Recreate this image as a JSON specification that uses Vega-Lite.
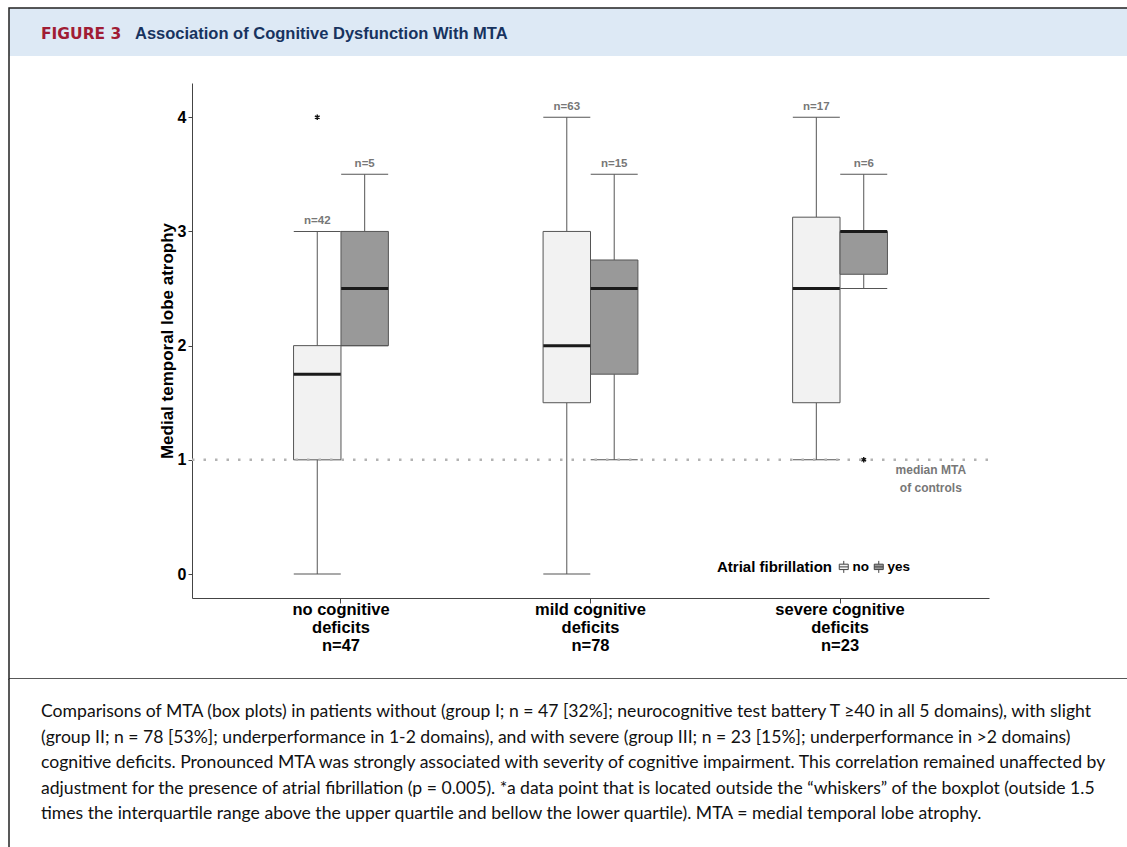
{
  "$schema": "https://vega.github.io/schema/vega-lite/v6.json",
  "padding": {"left": 8, "top": 7, "right": 0, "bottom": 0},
  "background": "white",
  "spacing": 0,
  "bounds": "flush",
  "config": {
    "font": "Liberation Sans",
    "axis": {"grid": false},
    "legend": {"labelLimit": 300}
  },
  "vconcat": [
    {
      "width": 1119,
      "height": 48,
      "view": {"fill": "#dde9f5", "stroke": "#222222", "strokeWidth": 1.5, "strokeDash": [1119, 1167, 48]},
      "data": {"values": [{"part": "FIGURE 3"}, {"part": "Association of Cognitive Dysfunction With MTA"}]},
      "encoding": {
        "x": {"field": "part", "type": "nominal", "scale": {"type": "point", "domain": ["FIGURE 3", "Association of Cognitive Dysfunction With MTA"], "range": [32, 126], "padding": 0}, "axis": null},
        "text": {"field": "part"}
      },
      "layer": [
        {"transform": [{"filter": "datum.part == 'FIGURE 3'"}],
         "mark": {"type": "text", "align": "left", "baseline": "middle", "dy": 2, "font": "DejaVu Sans", "fontWeight": "bold", "fontSize": 15.5, "color": "#a01c34"}},
        {"transform": [{"filter": "datum.part != 'FIGURE 3'"}],
         "mark": {"type": "text", "align": "left", "baseline": "middle", "dy": 2, "font": "Liberation Sans", "fontWeight": "bold", "fontSize": 16.5, "color": "#17335f"}}
      ]
    },
    {
      "width": 1119,
      "height": 623,
      "view": {"fill": "white", "stroke": "#222222", "strokeWidth": 1.5, "strokeDash": [0, 1742, 1742]},
      "resolve": {"scale": {"x": "independent"}},
      "layer": [
        {
          "data": {"values": [
            {"group": "no cognitive|deficits|n=47", "af": "no", "lower": 0, "q1": 1, "median": 1.75, "q3": 2, "upper": 3, "n": "n=42"},
            {"group": "no cognitive|deficits|n=47", "af": "yes", "lower": 2, "q1": 2, "median": 2.5, "q3": 3, "upper": 3.5, "n": "n=5"},
            {"group": "mild cognitive|deficits|n=78", "af": "no", "lower": 0, "q1": 1.5, "median": 2, "q3": 3, "upper": 4, "n": "n=63"},
            {"group": "mild cognitive|deficits|n=78", "af": "yes", "lower": 1, "q1": 1.75, "median": 2.5, "q3": 2.75, "upper": 3.5, "n": "n=15"},
            {"group": "severe cognitive|deficits|n=23", "af": "no", "lower": 1, "q1": 1.5, "median": 2.5, "q3": 3.125, "upper": 4, "n": "n=17"},
            {"group": "severe cognitive|deficits|n=23", "af": "yes", "lower": 2.5, "q1": 2.625, "median": 3, "q3": 3, "upper": 3.5, "n": "n=6"}
          ]},
          "encoding": {
            "x": {
              "field": "group", "type": "nominal",
              "scale": {"domain": ["no cognitive|deficits|n=47", "mild cognitive|deficits|n=78", "severe cognitive|deficits|n=23"], "range": [183, 980], "paddingInner": 0.62, "paddingOuter": 0.407},
              "axis": {
                "orient": "bottom", "offset": -81, "title": null,
                "labelExpr": "split(datum.value, '|')",
                "labelFont": "Liberation Sans", "labelFontSize": 16.5, "labelFontWeight": "bold", "labelColor": "#000000",
                "labelLineHeight": 18, "labelAngle": 0, "labelPadding": -2, "labelBaseline": "top",
                "labelOverlap": false, "labelBound": false,
                "tickSize": 5, "tickColor": "#444444", "domainColor": "#444444", "grid": false
              }
            },
            "xOffset": {"field": "af", "type": "nominal", "scale": {"domain": ["no", "yes"], "paddingInner": 0, "paddingOuter": 0}}
          },
          "layer": [
            {"mark": {"type": "rule", "color": "#555555", "strokeWidth": 1},
             "encoding": {
               "y": {"field": "lower", "type": "quantitative", "title": "Medial temporal lobe atrophy",
                     "scale": {"domain": [-0.21, 4.3], "range": [542, 27], "nice": false, "zero": false},
                     "axis": {"values": [0, 1, 2, 3, 4], "format": "d", "offset": -183, "title": "Medial temporal lobe atrophy",
                              "titleFont": "Liberation Sans", "titleFontSize": 17, "titleFontWeight": "bold", "titleColor": "#000000", "titlePadding": 1,
                              "labelFont": "Liberation Sans", "labelFontSize": 16, "labelFontWeight": "bold", "labelColor": "#000000", "labelPadding": 2,
                              "tickSize": 4, "tickColor": "#444444", "domainColor": "#444444", "grid": false}},
               "y2": {"field": "q1"}
             }},
            {"mark": {"type": "rule", "color": "#555555", "strokeWidth": 1},
             "encoding": {
               "y": {"field": "q3", "type": "quantitative", "title": "Medial temporal lobe atrophy"},
               "y2": {"field": "upper"}
             }},
            {"mark": {"type": "bar", "stroke": "#555555", "strokeWidth": 1},
             "encoding": {
               "y": {"field": "q1", "type": "quantitative", "title": "Medial temporal lobe atrophy"},
               "y2": {"field": "q3"},
               "fill": {"field": "af", "type": "nominal",
                        "scale": {"domain": ["no", "yes"], "range": ["#f2f2f2", "#999999"]},
                        "legend": {
                          "title": "Atrial fibrillation", "orient": "none", "legendX": 708, "legendY": 552,
                          "direction": "horizontal", "titleOrient": "left", "titlePadding": 4,
                          "titleFont": "Liberation Sans", "titleFontSize": 15, "titleFontWeight": "bold", "titleColor": "#000000",
                          "labelFont": "Liberation Sans", "labelFontSize": 13.5, "labelFontWeight": "bold", "labelColor": "#000000",
                          "labelOffset": 2, "columnPadding": 3,
                          "symbolType": "M-0.75,-0.45H0.75V0.45H-0.75Z M-0.75,0H0.75 M0,-0.45V-1 M0,0.45V1",
                          "symbolSize": 144, "symbolStrokeColor": "#444444", "symbolStrokeWidth": 1
                        }}
             }},
            {"transform": [{"fold": ["lower", "upper"], "as": ["which", "cap"]}],
             "mark": {"type": "tick", "color": "#555555", "opacity": 1, "thickness": 1, "size": 47},
             "encoding": {
               "y": {"field": "cap", "type": "quantitative", "title": "Medial temporal lobe atrophy"}
             }},
            {"mark": {"type": "tick", "color": "#1a1a1a", "opacity": 1, "thickness": 3, "size": 47},
             "encoding": {
               "y": {"field": "median", "type": "quantitative", "title": "Medial temporal lobe atrophy"}
             }},
            {"mark": {"type": "text", "baseline": "bottom", "dy": -5, "font": "Liberation Sans", "fontWeight": "bold", "fontSize": 11.5, "color": "#777777"},
             "encoding": {
               "y": {"field": "upper", "type": "quantitative", "title": "Medial temporal lobe atrophy"},
               "text": {"field": "n"}
             }},
            {"data": {"values": [
               {"group": "no cognitive|deficits|n=47", "af": "no", "value": 4},
               {"group": "severe cognitive|deficits|n=23", "af": "yes", "value": 1}
             ]},
             "mark": {"type": "point", "shape": "M0,-1V1M-0.87,-0.5L0.87,0.5M-0.87,0.5L0.87,-0.5", "size": 30, "filled": false, "stroke": "#111111", "strokeWidth": 1.4, "opacity": 1},
             "encoding": {
               "y": {"field": "value", "type": "quantitative", "title": "Medial temporal lobe atrophy"}
             }}
          ]
        },
        {
          "data": {"values": [{"mta": 1}]},
          "encoding": {
            "y": {"field": "mta", "type": "quantitative", "title": "Medial temporal lobe atrophy"}
          },
          "layer": [
            {"mark": {"type": "rule", "color": "#b3b3b3", "strokeWidth": 2.5, "strokeDash": [2.5, 9]},
             "encoding": {
               "x": {"datum": 0, "type": "quantitative", "scale": {"domain": [0, 1], "range": [183, 980]}, "axis": null},
               "x2": {"datum": 1}
             }},
            {"mark": {"type": "text", "text": ["median MTA", "of controls"], "align": "center", "baseline": "top", "dy": 5, "lineHeight": 18, "font": "Liberation Sans", "fontWeight": "bold", "fontSize": 12, "color": "#777777"},
             "encoding": {
               "x": {"datum": 0.927, "type": "quantitative"}
             }}
          ]
        }
      ]
    },
    {
      "width": 1119,
      "height": 180,
      "view": {"fill": "white", "stroke": "#222222", "strokeWidth": 1.5, "strokeDash": [0, 2418, 180]},
      "data": {"values": [
        {"line": 1, "text": "Comparisons of MTA (box plots) in patients without (group I; n = 47 [32%]; neurocognitive test battery T ≥40 in all 5 domains), with slight"},
        {"line": 2, "text": "(group II; n = 78 [53%]; underperformance in 1-2 domains), and with severe (group III; n = 23 [15%]; underperformance in >2 domains)"},
        {"line": 3, "text": "cognitive deficits. Pronounced MTA was strongly associated with severity of cognitive impairment. This correlation remained unaffected by"},
        {"line": 4, "text": "adjustment for the presence of atrial fibrillation (p = 0.005). *a data point that is located outside the “whiskers” of the boxplot (outside 1.5"},
        {"line": 5, "text": "times the interquartile range above the upper quartile and bellow the lower quartile). MTA = medial temporal lobe atrophy."}
      ]},
      "mark": {"type": "text", "align": "left", "baseline": "middle", "font": "Lato", "fontSize": 17.6, "color": "#111111"},
      "encoding": {
        "y": {"field": "line", "type": "ordinal", "scale": {"type": "point", "range": [33, 135], "padding": 0}, "axis": null},
        "x": {"datum": 0, "type": "quantitative", "scale": {"domain": [0, 1], "range": [32, 1119]}, "axis": null},
        "text": {"field": "text"}
      }
    }
  ]
}
